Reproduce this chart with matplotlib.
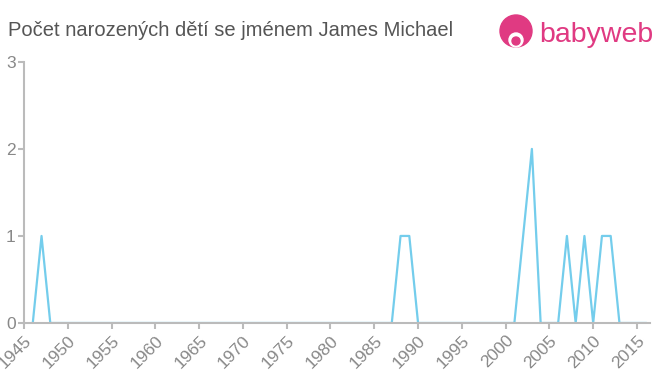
import matplotlib
matplotlib.use("Agg")
import matplotlib.pyplot as plt
from matplotlib.patches import Circle

plt.rcParams['font.family'] = ['Liberation Sans', 'DejaVu Sans']

years = list(range(1946, 2017))
counts = [0] * len(years)
nonzero = {1947: 1, 1988: 1, 1989: 1, 2002: 1, 2003: 2, 2007: 1, 2009: 1, 2011: 1, 2012: 1}
for y, c in nonzero.items():
    counts[years.index(y)] = c

xticks = list(range(1945, 2020, 5))
yticks = [0, 1, 2, 3]

title = "Počet narozených dětí se jménem James Michael"

fig = plt.figure(figsize=(6.6, 3.75), dpi=100)
ax = fig.add_axes([0.0364, 0.1387, 0.9486, 0.6963])

ax.plot(years, counts, color='#74cdec', linewidth=1.6)

ax.set_xlim(1945, 2016.5)
ax.set_ylim(0, 3)
ax.set_xticks(xticks)
ax.set_yticks(yticks)
ax.set_xticklabels([str(x) for x in xticks], rotation=45, ha='right', rotation_mode='anchor')

for s in ['top', 'right']:
    ax.spines[s].set_visible(False)
for s in ['left', 'bottom']:
    ax.spines[s].set_color('#bbbbbb')
    ax.spines[s].set_linewidth(1.5)
ax.tick_params(axis='both', colors='#bbbbbb', labelcolor='#888888', labelsize=12.5, length=4, width=1.5)
ax.tick_params(axis='x', pad=3)
ax.tick_params(axis='y', pad=2)

fig.text(0.012, 0.92, title, fontsize=14.5, color='#555555', va='center', ha='left')

# logo
logo_ax = fig.add_axes([0, 0, 1, 1], facecolor='none')
logo_ax.set_xlim(0, 660)
logo_ax.set_ylim(375, 0)
logo_ax.axis('off')
pink = '#e03a82'
logo_ax.add_patch(Circle((516, 31), 16, color=pink))
logo_ax.add_patch(Circle((516, 40), 7, color='white'))
logo_ax.add_patch(Circle((516, 41), 4, color=pink))
logo_ax.text(539, 35, "babyweb", fontsize=20.5, color=pink, va='center', ha='left')

fig.savefig("out.png", dpi=100)
